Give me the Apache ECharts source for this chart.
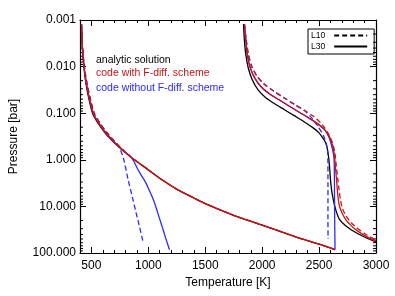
<!DOCTYPE html>
<html><head><meta charset="utf-8">
<script src="https://cdn.jsdelivr.net/npm/echarts@6/dist/echarts.min.js"></script>
<style>html,body{margin:0;padding:0;background:#fff}#c{width:395px;height:296px}</style>
</head><body><div id="c"></div>
<script>
// ---------- data (Temperature [K], Pressure [bar]) ----------
const xRange = [400, 3000];
const yRange = [0.001, 100];
const yMinorTicks = [0.002,0.003,0.004,0.005,0.006,0.007,0.008,0.009,
  0.02,0.03,0.04,0.05,0.06,0.07,0.08,0.09,
  0.2,0.3,0.4,0.5,0.6,0.7,0.8,0.9,
  2,3,4,5,6,7,8,9,
  20,30,40,50,60,70,80,90];

const leftAnalyticL30 = [[413,0.00123],[417,0.00251],[422,0.00447],[432,0.00891],[443,0.0158],[457,0.0269],[477,0.0479],[510,0.100],[560,0.166],[620,0.263],[680,0.380],[735,0.513],[790,0.676],[850,0.891],[980,1.51],[1120,2.69],[1260,4.42],[1400,6.61],[1500,8.71],[1750,15.5],[2000,25.1],[2300,45.7],[2500,64.6],[2640,85.0]];
const leftCodeL30 = [[413,0.00123],[418,0.00251],[423,0.00447],[434,0.00891],[446,0.0158],[461,0.0269],[482,0.0479],[516,0.100],[566,0.166],[626,0.263],[685,0.380],[739,0.513],[792,0.676],[851,0.891],[980,1.51],[1120,2.69],[1260,4.42],[1400,6.61],[1500,8.71],[1750,15.5],[2000,25.1],[2300,45.7],[2500,64.6],[2640,85.0]];
const leftCodeL10 = [[413,0.00123],[418,0.00251],[424,0.00447],[436,0.00891],[450,0.0158],[467,0.0269],[490,0.0479],[525,0.100],[577,0.166],[637,0.263],[695,0.380],[747,0.513],[798,0.676],[853,0.891],[980,1.51],[1120,2.69],[1260,4.42],[1400,6.61],[1500,8.71],[1750,15.5],[2000,25.1],[2300,45.7],[2500,64.6],[2640,85.0]];
const leftNoFdL10 = [[413,0.00123],[418,0.00251],[424,0.00447],[436,0.00891],[450,0.0158],[467,0.0269],[490,0.0479],[525,0.100],[577,0.166],[637,0.263],[695,0.380],[745,0.537],[785,1.00],[822,2.63],[860,6.31],[892,13.5],[922,26.9],[952,55.0]];
const leftNoFdL30 = [[413,0.00123],[418,0.00251],[423,0.00447],[434,0.00891],[446,0.0158],[461,0.0269],[482,0.0479],[516,0.100],[566,0.166],[626,0.263],[685,0.380],[739,0.513],[792,0.676],[834,0.794],[870,1.05],[906,1.58],[940,2.19],[978,3.09],[1006,4.37],[1035,6.31],[1064,9.77],[1092,16.2],[1121,26.9],[1150,45.7],[1186,85.0]];

const rightAnalyticL30 = [[1836,0.00122],[1844,0.00270],[1857,0.00562],[1878,0.0107],[1913,0.0192],[1964,0.0315],[2032,0.0467],[2110,0.0627],[2196,0.0841],[2282,0.113],[2368,0.152],[2445,0.204],[2497,0.261],[2531,0.334],[2557,0.428],[2574,0.603],[2586,0.986],[2595,1.78],[2604,3.37],[2616,5.52],[2634,9.02],[2655,13.7],[2679,18.9],[2736,26.2],[2822,36.3],[2908,46.5],[3000,58.0]];
const rightCodeL30 = [[1844,0.00122],[1857,0.0027],[1870,0.00562],[1896,0.0107],[1939,0.0183],[1999,0.0285],[2076,0.0403],[2162,0.0541],[2247,0.0726],[2333,0.0975],[2419,0.131],[2497,0.176],[2548,0.225],[2591,0.318],[2617,0.471],[2634,0.771],[2642,1.26],[2651,2.28],[2660,4.3],[2668,6.8],[2679,9.8],[2700,13.5],[2736,19.5],[2780,25.5],[2822,31.5],[2908,43.5],[3000,55.0]];
const rightCodeL10 = [[1844,0.00122],[1860,0.0027],[1880,0.00562],[1907,0.00966],[1953,0.0158],[2015,0.0234],[2098,0.0331],[2192,0.0467],[2288,0.0658],[2375,0.0885],[2456,0.119],[2528,0.176],[2576,0.261],[2614,0.407],[2637,0.665],[2650,1.26],[2663,2.39],[2675,4.32],[2688,7.3],[2705,11.0],[2736,16.0],[2780,22.0],[2822,27.5],[2908,39.5],[3000,52.5]];
const rightNoFdL10 = [[1844,0.00122],[1860,0.0027],[1880,0.00562],[1907,0.00966],[1953,0.0158],[2015,0.0234],[2098,0.0331],[2192,0.0467],[2288,0.0658],[2375,0.0885],[2440,0.13],[2495,0.2],[2538,0.3],[2564,0.45],[2576,0.75],[2578,2.0],[2578,20],[2579,50]];
const rightNoFdL30 = [[1844,0.00122],[1857,0.0027],[1870,0.00562],[1896,0.0107],[1939,0.0183],[1999,0.0285],[2076,0.0403],[2162,0.0541],[2247,0.0726],[2333,0.0975],[2419,0.131],[2497,0.176],[2548,0.225],[2585,0.32],[2610,0.5],[2628,0.8],[2634,1.5],[2636,10],[2640,85.0]];

const annotations = ['analytic solution', 'code with F-diff. scheme', 'code without F-diff. scheme'];
const legendNames = ['L10', 'L30'];

// ---------- style ----------
const FONT = 'Liberation Sans, Arial, Helvetica, sans-serif';
const BLACK = '#000000', RED = '#c81418', BLUE = '#2a2aff';
const LW = 1.3;
const DASH = [5, 3];

function line(data, color, dashed) {
  return { type: 'line', data, symbol: 'none', showSymbol: false, smooth: 0.25,
    lineStyle: { color, width: LW, type: dashed ? DASH : 'solid' }, silent: true, z: 2 };
}

const chart = echarts.init(document.getElementById('c'), null, { renderer: 'canvas' });
const axisBase = { min: xRange[0], max: xRange[1], type: 'value', splitLine: { show: false } };
chart.setOption({
  animation: false,
  backgroundColor: '#fff',
  grid: { left: 72, right: 19, top: 20, bottom: 43, containLabel: false },
  legend: {
    data: legendNames, orient: 'vertical', left: 308, top: 29,
    itemWidth: 33, itemHeight: 8, itemGap: 2, align: 'right', selectedMode: false,
    padding: [2, 6, 3, 3], borderColor: '#000', borderWidth: 1,
    itemStyle: { opacity: 0, borderWidth: 0 },
    textStyle: { fontSize: 8.5, fontFamily: FONT, color: '#000', padding: [0, 4, 0, 0] }
  },
  xAxis: [
    Object.assign({}, axisBase, { position: 'bottom', name: 'Temperature [K]', nameLocation: 'middle', nameGap: 20,
      nameTextStyle: { fontSize: 12, fontFamily: FONT, color: '#000' },
      axisLine: { show: true, onZero: false, lineStyle: { color: '#000', width: 1.2 } },
      axisTick: { show: true, inside: true, length: 6, lineStyle: { color: '#000' } },
      axisLabel: { show: true, fontSize: 12, fontFamily: FONT, color: '#000', margin: 7, showMinLabel: false,
        formatter: v => String(v) } }),
    Object.assign({}, axisBase, { position: 'bottom', interval: 100,
      axisLine: { show: false }, axisTick: { show: true, inside: true, length: 3, lineStyle: { color: '#000' } },
      axisLabel: { show: false } }),
    Object.assign({}, axisBase, { position: 'top',
      axisLine: { show: true, onZero: false, lineStyle: { color: '#000', width: 1.2 } },
      axisTick: { show: true, inside: true, length: 6, lineStyle: { color: '#000' } },
      axisLabel: { show: false } }),
    Object.assign({}, axisBase, { position: 'top', interval: 100,
      axisLine: { show: false }, axisTick: { show: true, inside: true, length: 3, lineStyle: { color: '#000' } },
      axisLabel: { show: false } })
  ],
  yAxis: [
    { type: 'log', logBase: 10, min: yRange[0], max: yRange[1], inverse: true, position: 'left',
      name: 'Pressure [bar]', nameLocation: 'middle', nameGap: 60,
      nameTextStyle: { fontSize: 12, fontFamily: FONT, color: '#000' },
      splitLine: { show: false },
      axisLine: { show: true, onZero: false, lineStyle: { color: '#000', width: 1.2 } },
      axisTick: { show: true, inside: true, length: 6, lineStyle: { color: '#000' } },
      axisLabel: { fontSize: 12, fontFamily: FONT, color: '#000', margin: 4,
        formatter: v => Number(v).toFixed(3) } },
    { type: 'log', logBase: 10, min: yRange[0], max: yRange[1], inverse: true, position: 'right',
      splitLine: { show: false },
      axisLine: { show: true, onZero: false, lineStyle: { color: '#000', width: 1.2 } },
      axisTick: { show: true, inside: true, length: 6, lineStyle: { color: '#000' } },
      axisLabel: { show: false } }
  ],
  graphic: [
    { type: 'text', x: 96, y: 60, style: { text: annotations[0], fill: BLACK, font: '10.5px ' + FONT, verticalAlign: 'middle' } },
    { type: 'text', x: 96, y: 73.5, style: { text: annotations[1], fill: RED, font: '10.5px ' + FONT, verticalAlign: 'middle' } },
    { type: 'text', x: 96, y: 88, style: { text: annotations[2], fill: BLUE, font: '10.5px ' + FONT, verticalAlign: 'middle' } }
  ],
  series: [
    { type: 'custom', silent: true, z: 1, data: yMinorTicks.map(v => [xRange[0], v]),
      renderItem: function (params, api) {
        const p = api.coord([api.value(0), api.value(1)]);
        const cs = params.coordSys;
        const xr = cs.x + cs.width;
        return { type: 'group', children: [
          { type: 'line', shape: { x1: cs.x, y1: p[1], x2: cs.x + 3, y2: p[1] }, style: { stroke: '#000', lineWidth: 1 } },
          { type: 'line', shape: { x1: xr, y1: p[1], x2: xr - 3, y2: p[1] }, style: { stroke: '#000', lineWidth: 1 } }
        ] };
      } },
    line(leftAnalyticL30, BLACK, false),
    line(rightAnalyticL30, BLACK, false),
    line(leftNoFdL10, BLUE, true),
    line(leftNoFdL30, BLUE, false),
    line(rightNoFdL10, BLUE, true),
    line(rightNoFdL30, BLUE, false),
    line(leftCodeL10, RED, true),
    line(leftCodeL30, RED, false),
    line(rightCodeL10, RED, true),
    line(rightCodeL30, RED, false),
    { name: 'L10', type: 'line', data: [], symbol: 'none', lineStyle: { color: BLACK, width: LW, type: DASH }, itemStyle: { color: BLACK } },
    { name: 'L30', type: 'line', data: [], symbol: 'none', lineStyle: { color: BLACK, width: LW, type: 'solid' }, itemStyle: { color: BLACK } }
  ]
});
</script>
</body></html>
